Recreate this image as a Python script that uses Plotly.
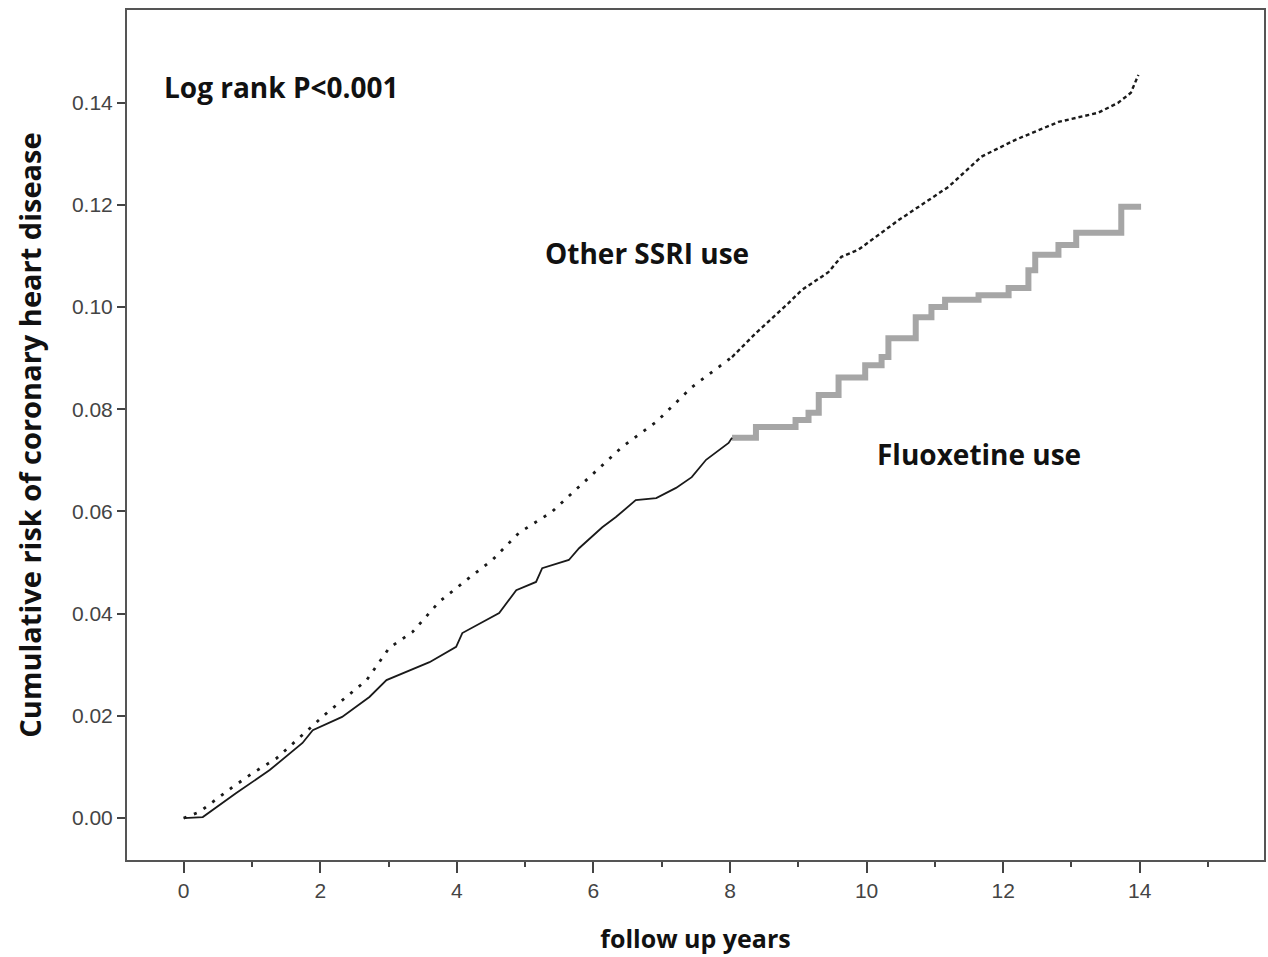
import plotly.graph_objects as go

# Other SSRI use (dotted curve)
other_t = [0, 0.23, 0.70, 1.01, 1.36, 1.94, 2.09, 2.68, 3.01, 3.35, 3.74, 4.18, 4.52, 4.91, 5.39,
           6.42, 6.92, 7.44, 8.03]
other_v = [0, 0.0012, 0.0059, 0.0088, 0.0117, 0.0188, 0.0205, 0.0270, 0.0333, 0.0364, 0.0423,
           0.0470, 0.0505, 0.0558, 0.0599, 0.0726, 0.0775, 0.0843, 0.0902]
other_t2 = [8.03, 8.38, 8.86, 9.05, 9.44, 9.63, 9.88, 10.47, 11.20, 11.68, 12.18, 12.81, 13.39,
            13.68, 13.87, 13.98]
other_v2 = [0.0902, 0.0949, 0.1008, 0.1033, 0.1068, 0.1098, 0.1112, 0.1170, 0.1235, 0.1294,
            0.1327, 0.1362, 0.1380, 0.1399, 0.1419, 0.1454]

# Fluoxetine use (solid black up to ~8 years, thick grey steps afterwards)
fluox_t = [0, 0.28, 0.77, 1.26, 1.74, 1.89, 2.32, 2.72, 2.97, 3.60, 3.99, 4.08, 4.62, 4.87, 5.16,
           5.25, 5.64, 5.79, 6.13, 6.33, 6.62, 6.92, 7.21, 7.44, 7.65, 7.98, 8.03]
fluox_v = [0, 0.0002, 0.0049, 0.0094, 0.0147, 0.0172, 0.0198, 0.0237, 0.0270, 0.0305, 0.0335,
           0.0362, 0.0401, 0.0446, 0.0462, 0.0489, 0.0505, 0.0528, 0.0569, 0.0589, 0.0622,
           0.0626, 0.0646, 0.0667, 0.0701, 0.0734, 0.0744]
fluox_t2 = [8.03, 8.38, 8.96, 9.15, 9.30, 9.59, 9.98, 10.22, 10.32, 10.72, 10.95, 11.15, 11.64,
            12.08, 12.37, 12.47, 12.81, 13.07, 13.73, 14.02]
fluox_v2 = [0.0744, 0.0765, 0.0779, 0.0793, 0.0828, 0.0862, 0.0886, 0.0902, 0.0939, 0.0980,
            0.1000, 0.1014, 0.1023, 0.1037, 0.1072, 0.1102, 0.1121, 0.1145, 0.1196, 0.1196]

x_ticks = [0, 2, 4, 6, 8, 10, 12, 14]
y_ticks = [0.00, 0.02, 0.04, 0.06, 0.08, 0.10, 0.12, 0.14]
y_labels = ["0.00", "0.02", "0.04", "0.06", "0.08", "0.10", "0.12", "0.14"]

fig = go.Figure()
fig.add_trace(go.Scatter(x=fluox_t2, y=fluox_v2, mode="lines", line_shape="hv",
                         line=dict(color="#a6a6a6", width=6), showlegend=False))
fig.add_trace(go.Scatter(x=fluox_t, y=fluox_v, mode="lines",
                         line=dict(color="#1a1a1a", width=1.8), showlegend=False))
fig.add_trace(go.Scatter(x=other_t, y=other_v, mode="lines",
                         line=dict(color="#1a1a1a", width=2.8, dash="3px,8px"), showlegend=False))
fig.add_trace(go.Scatter(x=other_t2, y=other_v2, mode="lines",
                         line=dict(color="#1a1a1a", width=2.4, dash="4px,3px"), showlegend=False))

font_ann = "Open Sans, Lato, sans-serif"
fig.add_annotation(x=1.43, y=0.1431, xref="x", yref="y", text="<b>Log rank P<0.001</b>",
                   showarrow=False, font=dict(family=font_ann, size=28, color="#111"))
fig.add_annotation(x=6.78, y=0.1106, xref="x", yref="y", text="<b>Other SSRI use</b>",
                   showarrow=False, font=dict(family=font_ann, size=28, color="#111"))
fig.add_annotation(x=11.65, y=0.0712, xref="x", yref="y", text="<b>Fluoxetine use</b>",
                   showarrow=False, font=dict(family=font_ann, size=28, color="#111"))

fig.update_layout(
    width=1268, height=957,
    margin=dict(l=127, r=2, t=10, b=97),
    paper_bgcolor="white", plot_bgcolor="white",
    xaxis=dict(range=[-0.83, 15.82], tickvals=x_ticks, ticks="outside", ticklen=11,
               tickwidth=2, tickcolor="#444", showline=True, linecolor="#555", linewidth=2,
               mirror=True, showgrid=False, zeroline=False,
               tickfont=dict(family="Liberation Sans, Arial", size=21, color="#444"),
               minor=dict(dtick=1, tick0=1, ticks="outside", ticklen=5, tickwidth=2,
                          tickcolor="#444", showgrid=False),
               title=dict(text="<b>follow up years</b>", standoff=29,
                          font=dict(family=font_ann, size=25, color="#111"))),
    yaxis=dict(range=[-0.0082, 0.1581], tickvals=y_ticks, ticktext=y_labels, ticks="outside",
               ticklen=8, tickwidth=2, tickcolor="#444", showline=True, linecolor="#555",
               linewidth=2, mirror=True, showgrid=False, zeroline=False,
               tickfont=dict(family="Liberation Sans, Arial", size=21, color="#444"),
               title=dict(text="<b>Cumulative risk of coronary heart disease</b>", standoff=22,
                          font=dict(family=font_ann, size=29, color="#111"))),
)

fig.write_html("out.html", config={"displayModeBar": False},
               post_script="document.body.style.margin='0';document.body.style.overflow='hidden';")
